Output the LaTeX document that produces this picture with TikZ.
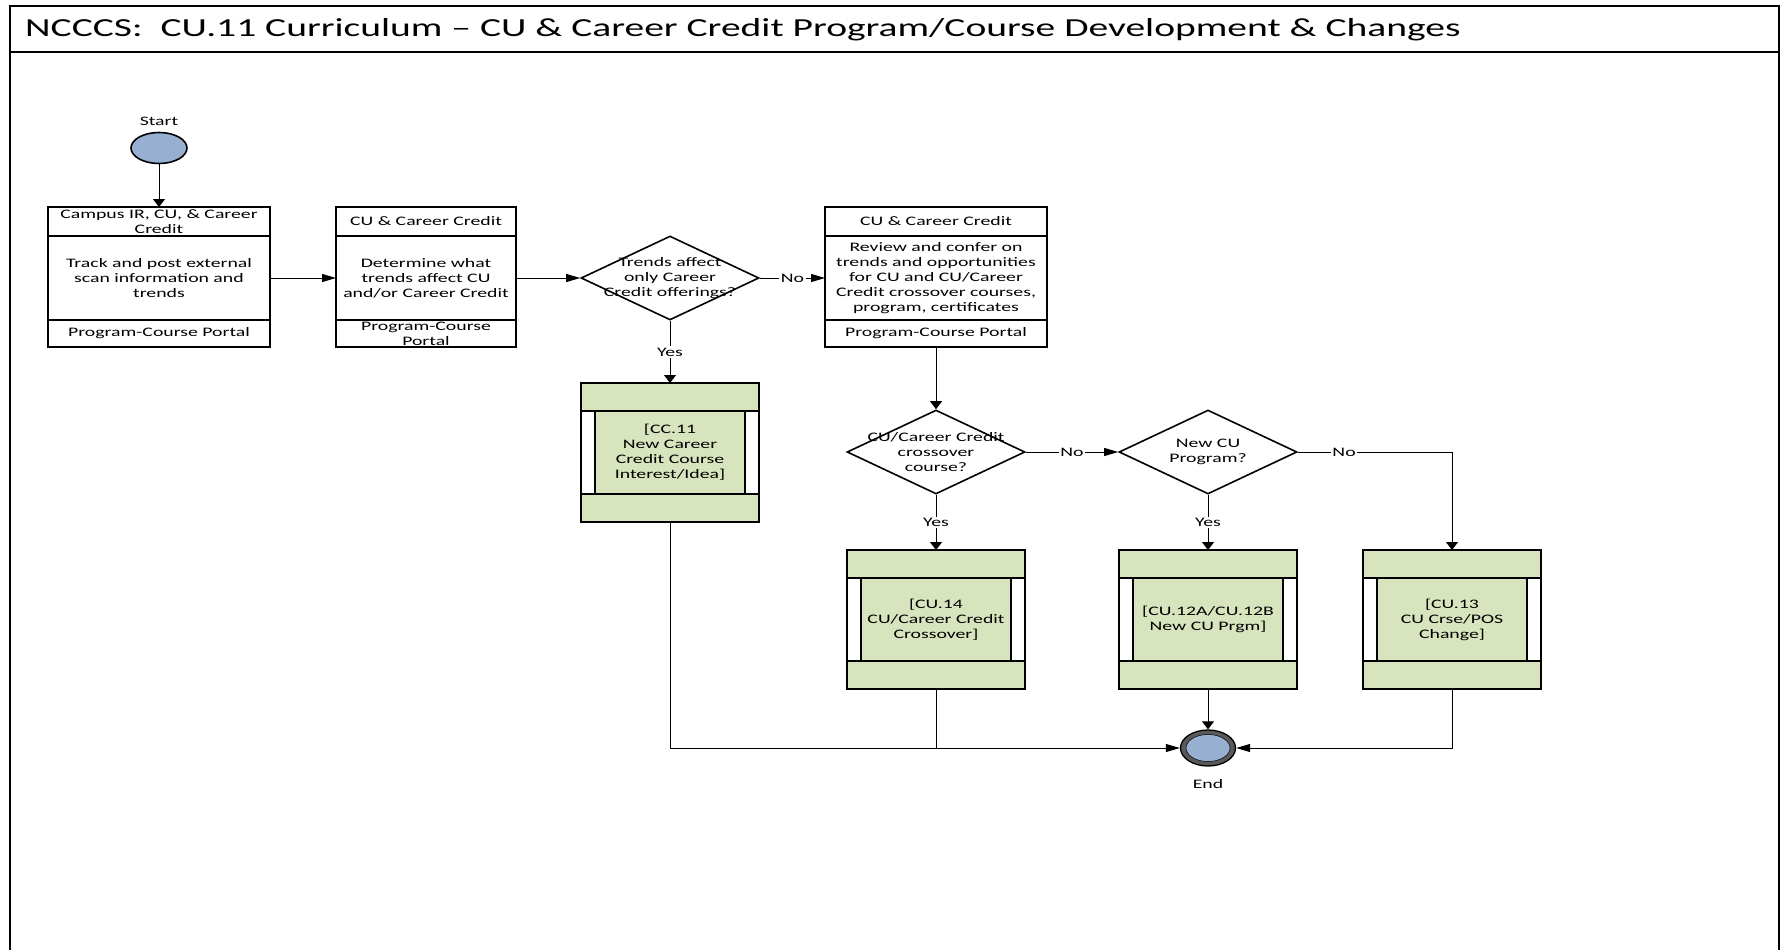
\documentclass[tikz,border=0pt]{standalone}
\usepackage{fontspec}
\setmainfont{Carlito}[FakeStretch=1.52]
\usetikzlibrary{arrows.meta,shapes.geometric,calc}

\definecolor{procgreen}{RGB}{215,228,189}
\definecolor{termblue}{RGB}{151,176,209}
\definecolor{ringgray}{RGB}{89,89,89}

% three-part swimlane step: name, left x, right x, bottom y, header, body, footer
\newcommand{\lanebox}[7]{%
  \node[cell, minimum width={#3-#2}, minimum height=29] (#1h) at (#2,207) {};
  \node[cell, minimum width={#3-#2}, minimum height=84] (#1b) at (#2,236) {};
  \node[cell, minimum width={#3-#2}, minimum height={#4-320}] (#1f) at (#2,320) {};
  \node[txt] (#1ht) at (#1h.center) {#5};
  \node[txt] (#1bt) at (#1b.center) {#6};
  \node[txt] (#1ft) at (#1f.center) {#7};
}

% sub-process reference box: name, centre x, centre y, text
\newcommand{\subproc}[4]{%
  \node[subbox] (#1) at (#2,#3) {};
  \fill[white] ($(#1.north west)+(0,28)$) rectangle ($(#1.south west)+(14,-28)$);
  \fill[white] ($(#1.north east)+(-14,28)$) rectangle ($(#1.south east)+(0,-28)$);
  \draw[boxline] ($(#1.north west)+(0,28)$) -- ($(#1.north east)+(0,28)$)
                 ($(#1.south west)+(0,-28)$) -- ($(#1.south east)+(0,-28)$)
                 ($(#1.north west)+(14,28)$) -- ($(#1.south west)+(14,-28)$)
                 ($(#1.north east)+(-14,28)$) -- ($(#1.south east)+(-14,-28)$);
  \draw[boxline] (#1.north west) rectangle (#1.south east);
  \node[txt] (#1t) at (#1.center) {#4};
}

\begin{document}
\begin{tikzpicture}[x=1pt,y=-1pt,
  txt/.style={font=\fontsize{13}{15}\selectfont, align=center, inner sep=0pt},
  lbl/.style={txt, fill=white, inner sep=1.5pt},
  boxline/.style={line width=1.6pt},
  cell/.style={draw, boxline, rectangle, inner sep=0pt, outer sep=0pt, anchor=north west},
  subbox/.style={rectangle, fill=procgreen, minimum width=178, minimum height=139, inner sep=0pt, outer sep=0pt},
  decision/.style={diamond, draw, boxline, fill=white, minimum width=178, minimum height=84, inner sep=0pt},
  conn/.style={line width=1pt},
  harrow/.style={-{Triangle[length=14pt,width=8pt]}},
  varrow/.style={-{Triangle[length=8pt,width=12pt]}}
]
\useasboundingbox (0,0) rectangle (1784,950);

% page frame and title band
\draw[line width=1.3pt] (10,950) -- (10,6) -- (1779,6) -- (1779,950);
\draw[line width=1.3pt] (10,52) -- (1779,52);
\node[anchor=west, inner sep=0pt, font=\fontsize{26}{30}\selectfont] (title) at (25,30)
  {NCCCS:\ \ CU.11 Curriculum – CU \& Career Credit Program/Course Development \& Changes};

% start
\node[ellipse, draw, boxline, fill=termblue, minimum width=56, minimum height=31, inner sep=0pt] (start) at (159,148) {};
\node[txt] (startlbl) at (159,121) {Start};

% swimlane steps
\lanebox{ba}{48}{270}{347}{Campus IR, CU, \& Career\\Credit}
  {Track and post external\\scan information and\\trends}{Program-Course Portal}
\lanebox{bb}{336}{516}{347}{CU \& Career Credit}
  {Determine what\\trends affect CU\\and/or Career Credit}{Program-Course\\Portal}
\lanebox{bc}{825}{1047}{347}{CU \& Career Credit}
  {Review and confer on\\trends and opportunities\\for CU and CU/Career\\Credit crossover courses,\\program, certificates}
  {Program-Course Portal}

% decisions
\node[decision] (da) at (670,278) {};
\node[txt] (dat) at (da) {Trends affect\\only Career\\Credit offerings?};
\node[decision] (db) at (936,452) {};
\node[txt] (dbt) at (db) {CU/Career Credit\\crossover\\course?};
\node[decision] (dc) at (1208,452) {};
\node[txt] (dct) at (dc) {New CU\\Program?};

% sub-processes
\subproc{cca}{670}{452.5}{[CC.11\\New Career\\Credit Course\\Interest/Idea]}
\subproc{cua}{936}{619.5}{[CU.14\\CU/Career Credit\\Crossover]}
\subproc{cub}{1208}{619.5}{[CU.12A/CU.12B\\New CU Prgm]}
\subproc{cuc}{1452}{619.5}{[CU.13\\CU Crse/POS\\Change]}

% end
\node[ellipse, draw, line width=1.3pt, fill=ringgray, minimum width=55, minimum height=36, inner sep=0pt] (end) at (1208,748) {};
\node[ellipse, draw=black, line width=0.5pt, fill=termblue, minimum width=44, minimum height=27, inner sep=0pt] (endin) at (end) {};
\node[txt] (endlbl) at (1208,784) {End};

% connectors
\draw[conn, varrow] (start.south) -- (start.south |- bah.north);
\draw[conn, harrow] (bab.east) -- (bbb.west);
\draw[conn, harrow] (bbb.east) -- (da.west);
\draw[conn, harrow] (da.east) -- node[lbl] (noa) {No} (bcb.west);
\draw[conn, varrow] (da.south) -- node[lbl] (yesa) {Yes} (cca.north);
\draw[conn, varrow] (bcf.south) -- (db.north);
\draw[conn, harrow] (db.east) -- node[lbl] (nob) {No} (dc.west);
\draw[conn, varrow] (db.south) -- node[lbl] (yesb) {Yes} (cua.north);
\draw[conn, varrow] (dc.south) -- node[lbl] (yesc) {Yes} (cub.north);
\draw[conn, varrow] (dc.east) -| node[lbl, pos=0.15] (noc) {No} (cuc.north);
\draw[conn, harrow] (cca.south) |- (end.west);
\draw[conn] (cua.south) -- (cua.south |- end.west);
\draw[conn, varrow] (cub.south) -- (end.north);
\draw[conn, harrow] (cuc.south) |- (end.east);
\end{tikzpicture}
\end{document}
